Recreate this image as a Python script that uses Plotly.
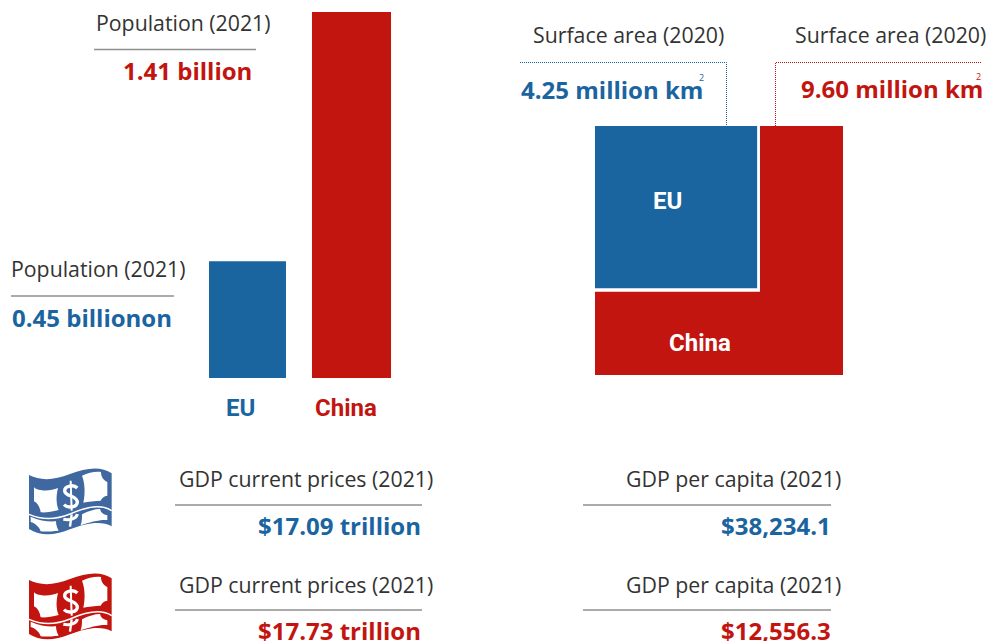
import math
import plotly.graph_objects as go

WIDTH, HEIGHT = 988, 641
BLUE, RED, ICON_BLUE = "#1a64a0", "#c3150f", "#3f67a0"
INK, RULE = "#333333", "#8f8f8f"
BODY = "Open Sans, sans-serif"
HEADING = "Roboto, Noto Sans, sans-serif"

# Figures shown in the graphic
regions = ["EU", "China"]
population_bn = [0.45, 1.41]
surface_mkm2 = [4.25, 9.60]
population_labels = ["0.45 billionon", "1.41 billion"]
surface_labels = ["4.25 million km", "9.60 million km"]
gdp_labels = ["$17.09 trillion", "$17.73 trillion"]
gdp_per_capita_labels = ["$38,234.1", "$12,556.3"]


def px(x):
    return x / WIDTH


def py(y):
    return 1 - y / HEIGHT


def label(text, x, y, color=INK, size=21.3, bold=False, anchor="left", family=BODY):
    return dict(
        text=f"<b>{text}</b>" if bold else text,
        x=px(x), y=py(y), xref="paper", yref="paper",
        xanchor=anchor, yanchor="middle", showarrow=False, borderpad=0,
        font=dict(family=family, size=size, color=color),
    )


def rule(x0, x1, y):
    return dict(type="line", xref="paper", yref="paper",
                x0=px(x0), x1=px(x1), y0=py(y), y1=py(y),
                line=dict(color=RULE, width=1.5))


def dotted(points, color):
    path = "M " + " L ".join(f"{px(x)},{py(y)}" for x, y in points)
    return dict(type="path", path=path, xref="paper", yref="paper",
                line=dict(color=color, width=1, dash="1px,1px"))


def icon_path(commands, ox, oy):
    # Commands are (letter, coords...) in a local box drawn at 3x scale
    parts = []
    for cmd in commands:
        letter, *vals = cmd
        pts = [f"{px(ox + vals[i] / 3)},{py(oy + vals[i + 1] / 3)}" for i in range(0, len(vals), 2)]
        parts.append(letter + " " + " ".join(pts))
    return " ".join(parts)


BILL = [("M", 27, 45), ("C", 60, 62, 100, 62, 150, 42), ("C", 200, 22, 245, 18, 275, 40),
        ("L", 275, 199), ("C", 245, 182, 200, 188, 150, 208), ("C", 100, 228, 60, 228, 27, 207), ("Z",)]
WINDOWS = [
    [("M", 42, 82), ("C", 48, 88, 54, 90, 62, 90), ("C", 80, 94, 98, 90, 114, 84),
     ("C", 108, 108, 108, 132, 116, 150), ("C", 95, 156, 78, 158, 62, 157),
     ("C", 60, 142, 52, 128, 42, 124), ("Z",)],
    [("M", 186, 47), ("C", 205, 38, 225, 34, 243, 36), ("C", 243, 50, 250, 60, 262, 66),
     ("L", 262, 107), ("C", 252, 108, 245, 114, 242, 122), ("C", 225, 122, 205, 125, 190, 128),
     ("C", 196, 100, 195, 70, 186, 47), ("Z",)],
    [("M", 32, 170), ("C", 60, 182, 85, 186, 108, 184), ("C", 108, 195, 112, 205, 116, 212),
     ("C", 95, 214, 75, 216, 62, 214), ("C", 58, 200, 45, 190, 32, 186), ("Z",)],
    [("M", 186, 163), ("C", 205, 153, 225, 147, 240, 147), ("C", 242, 158, 250, 164, 262, 166),
     ("L", 262, 180), ("C", 240, 178, 210, 186, 182, 196), ("C", 186, 185, 186, 175, 186, 163), ("Z",)],
]
BAND = [("M", 27, 163), ("C", 70, 182, 110, 178, 150, 162), ("C", 200, 140, 245, 132, 275, 152)]
DOLLAR_S = [("M", 172, 84), ("C", 160, 72, 134, 78, 134, 92), ("C", 134, 110, 172, 106, 172, 126),
            ("C", 172, 142, 144, 146, 132, 134)]
DOLLAR_STEM = [("M", 152, 62), ("L", 155, 152)]
DOLLAR_TAIL = [("M", 155, 163), ("L", 150, 200)]
DOLLAR_HOOK = [("M", 172, 162), ("C", 170, 176, 150, 182, 130, 178)]


def bill_icon(color, ox, oy):
    base = dict(type="path", xref="paper", yref="paper")
    shapes = [dict(base, path=icon_path(BILL, ox, oy), fillcolor=color, line=dict(width=0))]
    for window in WINDOWS:
        shapes.append(dict(base, path=icon_path(window, ox, oy), fillcolor="white", line=dict(width=0)))
    shapes.append(dict(base, path=icon_path(BAND, ox, oy), line=dict(color="white", width=1.5)))
    for stroke, w in ((DOLLAR_S, 3.4), (DOLLAR_STEM, 2), (DOLLAR_TAIL, 2.4), (DOLLAR_HOOK, 3)):
        shapes.append(dict(base, path=icon_path(stroke, ox, oy), line=dict(color="white", width=w)))
    return shapes


fig = go.Figure()

# Population bars on a shared value axis
fig.add_trace(go.Bar(
    x=regions, y=population_bn, width=[0.74, 0.76],
    marker=dict(color=[BLUE, RED], line=dict(width=0)),
    xaxis="x", yaxis="y", hoverinfo="skip", showlegend=False,
))

# Nested squares whose sides follow the square root of the surface area
sides = [math.sqrt(a) for a in surface_mkm2]
GAP_X, GAP_Y = 0.036, 0.044


def square(side_x, side_y, color):
    fig.add_trace(go.Scatter(
        x=[0, side_x, side_x, 0, 0], y=[0, 0, side_y, side_y, 0],
        mode="lines", fill="toself", fillcolor=color, line=dict(width=0),
        xaxis="x2", yaxis="y2", hoverinfo="skip", showlegend=False,
    ))


square(sides[1], sides[1], RED)
square(sides[0], sides[0], "white")
square(sides[0] - GAP_X, sides[0] - GAP_Y, BLUE)

annotations = [
    label("Population (2021)", 95, 23),
    label(population_labels[1], 187.5, 71, RED, 24, True, "center"),
    label("Population (2021)", 10, 268),
    label(population_labels[0], 92, 317, BLUE, 24, True, "center"),
    label(regions[0], 240, 408, BLUE, 24, True, "center", HEADING),
    label(regions[1], 346, 408, RED, 24, True, "center", HEADING),
    label("Surface area (2020)", 532, 34),
    label("Surface area (2020)", 794, 34),
    label(surface_labels[0], 520, 89, BLUE, 24, True),
    label("2", 701, 77, BLUE, 9, False, "center"),
    label(surface_labels[1], 984, 88, RED, 24, True, "right"),
    label("2", 978, 76, RED, 9, False, "center"),
    label(regions[0], 667.5, 201, "white", 24, True, "center", HEADING),
    label(regions[1], 700, 343, "white", 24, True, "center", HEADING),
]

for row, (color, y_title, y_value) in enumerate([(BLUE, 479, 525), (RED, 584, 630)]):
    annotations += [
        label("GDP current prices (2021)", 178, y_title),
        label(gdp_labels[row], 422, y_value, color, 24, True, "right"),
        label("GDP per capita (2021)", 842, y_title, anchor="right"),
        label(gdp_per_capita_labels[row], 832, y_value, color, 24, True, "right"),
    ]

shapes = [
    rule(94, 256, 49.5), rule(11, 174, 296),
    rule(175, 422, 505), rule(175, 422, 610),
    rule(583, 831, 505), rule(583, 831, 610),
    dotted([(520, 62.5), (726.5, 62.5), (726.5, 126)], BLUE),
    dotted([(775.5, 126), (775.5, 62.5), (982, 62.5)], RED),
]
shapes += bill_icon(ICON_BLUE, 20, 460) + bill_icon(RED, 20, 565)

hidden = dict(visible=False, showgrid=False, zeroline=False, fixedrange=True)
fig.update_layout(
    width=WIDTH, height=HEIGHT,
    margin=dict(l=0, r=0, t=0, b=0),
    paper_bgcolor="white", plot_bgcolor="rgba(0,0,0,0)",
    showlegend=False,
    xaxis=dict(hidden, domain=[px(195.5), px(403.5)], type="category",
               range=[-0.5, 1.5], categoryorder="array", categoryarray=regions),
    yaxis=dict(hidden, domain=[py(378), py(12)], range=[0, max(population_bn)]),
    xaxis2=dict(hidden, domain=[px(595), px(843)], range=[0, sides[1]], anchor="y2"),
    yaxis2=dict(hidden, domain=[py(375), py(126)], range=[sides[1], 0], anchor="x2"),
    annotations=annotations,
    shapes=shapes,
)

fig.write_html("out.html", config=dict(displayModeBar=False))
